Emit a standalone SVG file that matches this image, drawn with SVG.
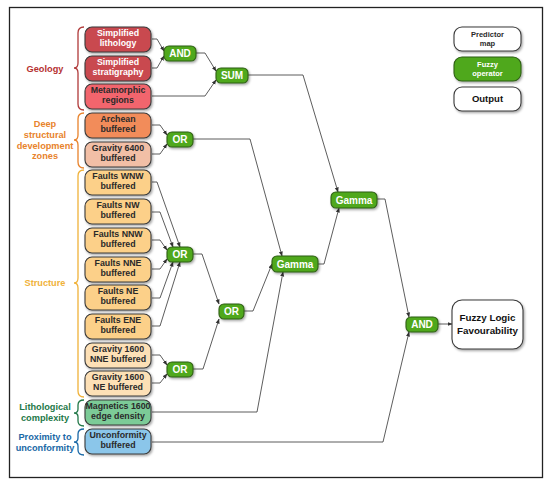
<svg xmlns="http://www.w3.org/2000/svg" width="550" height="486" viewBox="0 0 550 486">
<defs>
<style>
.n rect{stroke:#3a3a3a;stroke-width:1.1;filter:url(#sh)}
.n text{font-family:"Liberation Sans",Arial,sans-serif;font-weight:bold;font-size:8.8px;text-anchor:middle;fill:#2a2a2a}
.n text.w{fill:#ffffff}
.op rect{fill:#4fa81e;stroke:#2f5f14;stroke-width:1.1;filter:url(#sh)}
.op text{font-family:"Liberation Sans",Arial,sans-serif;font-weight:bold;font-size:10px;text-anchor:middle;fill:#ffffff}
.c path{fill:none;stroke:#333;stroke-width:0.8;marker-end:url(#ah)}
.lab{font-family:"Liberation Sans",Arial,sans-serif;font-weight:bold;font-size:9.2px;text-anchor:middle}
.br{fill:none;stroke-width:1.3}
</style>
<filter id="sh" x="-20%" y="-20%" width="150%" height="160%">
<feDropShadow dx="1.2" dy="1.5" stdDeviation="1.2" flood-color="#000" flood-opacity="0.35"/>
</filter>
<marker id="ah" viewBox="0 0 10 10" refX="9" refY="5" markerWidth="5" markerHeight="5" orient="auto" markerUnits="userSpaceOnUse">
<path d="M0,1 L10,5 L0,9 z" fill="#333"/>
</marker>
</defs>
<rect x="0" y="0" width="550" height="486" fill="#ffffff"/>
<rect x="9.5" y="7.5" width="533" height="470" fill="#ffffff" stroke="#222" stroke-width="1.3"/>

<!-- group labels and brackets -->
<g id="grp-geology">
<text class="lab" x="45" y="72" fill="#b5302f">Geology</text>
<path class="br" stroke="#b03a3a" d="M84,27 Q78,27 78,33 L78,63 Q78,68 74,68 Q78,68 78,73 L78,104 Q78,110 84,110"/>
</g>
<g id="grp-deep">
<text class="lab" x="45" y="127" fill="#e8832c">Deep</text>
<text class="lab" x="45" y="138" fill="#e8832c">structural</text>
<text class="lab" x="45" y="148.5" fill="#e8832c">development</text>
<text class="lab" x="45" y="159" fill="#e8832c">zones</text>
<path class="br" stroke="#e8832c" d="M84,113 Q78,113 78,119 L78,135 Q78,140 74,140 Q78,140 78,145 L78,162 Q78,168 84,168"/>
</g>
<g id="grp-structure">
<text class="lab" x="45" y="286" fill="#f0b23a">Structure</text>
<path class="br" stroke="#f0b23a" d="M84,170 Q78,170 78,176 L78,278 Q78,283 74,283 Q78,283 78,288 L78,391 Q78,397 84,397"/>
</g>
<g id="grp-litho">
<text class="lab" x="45" y="410" fill="#237848">Lithological</text>
<text class="lab" x="45" y="421" fill="#237848">complexity</text>
<path class="br" stroke="#237848" d="M84,400 Q78,400 78,405 L78,409 Q78,413 74,413 Q78,413 78,417 L78,421 Q78,426 84,426"/>
</g>
<g id="grp-prox">
<text class="lab" x="45" y="440" fill="#1a68a6">Proximity to</text>
<text class="lab" x="45" y="451" fill="#1a68a6">unconformity</text>
<path class="br" stroke="#1a68a6" d="M84,429 Q78,429 78,434 L78,438 Q78,442 74,442 Q78,442 78,446 L78,450 Q78,455 84,455"/>
</g>

<!-- connectors -->
<g id="connectors" class="c">
<path d="M152,39 L157,39 L164,51"/>
<path d="M152,68 L157,68 L164,56"/>
<path d="M196,53 L205,53 L216,71"/>
<path d="M152,96 L205,96 L216,80"/>
<path d="M248,75 L303,75 L338,192"/>
<path d="M152,125 L160,125 L167,135"/>
<path d="M152,154 L160,154 L167,144"/>
<path d="M193,139 L250,139 L282,256"/>
<path d="M152,182 L157,182 L180,247"/>
<path d="M152,212 L160,212 L173,247"/>
<path d="M152,240 L160,240 L167,250"/>
<path d="M152,269 L160,269 L167,259"/>
<path d="M152,298 L160,298 L173,262"/>
<path d="M152,326 L160,326 L180,262"/>
<path d="M193,254 L202,254 L219,304"/>
<path d="M152,355 L160,355 L167,365"/>
<path d="M152,383 L160,383 L167,374"/>
<path d="M193,369 L203,369 L219,319"/>
<path d="M244,311 L253,311 L272,264"/>
<path d="M152,412 L257,412 L283,272"/>
<path d="M318,264 L324,264 L339,208"/>
<path d="M377,199 L385,199 L409,317"/>
<path d="M152,442 L383,442 L409,332"/>
<path d="M438,324 L452,324"/>
</g>

<!-- predictor nodes -->
<g id="n-lith" class="n"><rect x="85" y="27" width="66" height="25" rx="7" fill="#c9494f"/><text class="w" x="118" y="36">Simplified</text><text class="w" x="118" y="46">lithology</text></g>
<g id="n-strat" class="n"><rect x="85" y="56" width="66" height="25" rx="7" fill="#c9494f"/><text class="w" x="118" y="65">Simplified</text><text class="w" x="118" y="75">stratigraphy</text></g>
<g id="n-meta" class="n"><rect x="85" y="84" width="66" height="25" rx="7" fill="#f2656d"/><text x="118" y="93">Metamorphic</text><text x="118" y="103">regions</text></g>
<g id="n-arch" class="n"><rect x="85" y="113" width="66" height="25" rx="7" fill="#f28c5a"/><text x="118" y="122">Archean</text><text x="118" y="132">buffered</text></g>
<g id="n-grav6400" class="n"><rect x="85" y="142" width="66" height="25" rx="7" fill="#f2bfa6"/><text x="118" y="151">Gravity 6400</text><text x="118" y="161">buffered</text></g>
<g id="n-wnw" class="n"><rect x="85" y="170" width="66" height="25" rx="7" fill="#fcd089"/><text x="118" y="179">Faults WNW</text><text x="118" y="189">buffered</text></g>
<g id="n-nw" class="n"><rect x="85" y="199" width="66" height="25" rx="7" fill="#fcd089"/><text x="118" y="208">Faults NW</text><text x="118" y="218">buffered</text></g>
<g id="n-nnw" class="n"><rect x="85" y="228" width="66" height="25" rx="7" fill="#fcd089"/><text x="118" y="237">Faults NNW</text><text x="118" y="247">buffered</text></g>
<g id="n-nne" class="n"><rect x="85" y="257" width="66" height="25" rx="7" fill="#fcd089"/><text x="118" y="266">Faults NNE</text><text x="118" y="276">buffered</text></g>
<g id="n-ne" class="n"><rect x="85" y="285" width="66" height="25" rx="7" fill="#fcd089"/><text x="118" y="294">Faults NE</text><text x="118" y="304">buffered</text></g>
<g id="n-ene" class="n"><rect x="85" y="314" width="66" height="25" rx="7" fill="#fcd089"/><text x="118" y="323">Faults ENE</text><text x="118" y="333">buffered</text></g>
<g id="n-g1600nne" class="n"><rect x="85" y="343" width="66" height="25" rx="7" fill="#fde0b6"/><text x="118" y="352">Gravity 1600</text><text x="118" y="362">NNE buffered</text></g>
<g id="n-g1600ne" class="n"><rect x="85" y="371" width="66" height="25" rx="7" fill="#fde0b6"/><text x="118" y="380">Gravity 1600</text><text x="118" y="390">NE buffered</text></g>
<g id="n-mag" class="n"><rect x="85" y="400" width="66" height="25" rx="7" fill="#7ccb97"/><text x="118" y="409">Magnetics 1600</text><text x="118" y="419">edge density</text></g>
<g id="n-unc" class="n"><rect x="85" y="429" width="66" height="25" rx="7" fill="#8bc6ea"/><text x="118" y="438">Unconformity</text><text x="118" y="448">buffered</text></g>

<!-- operators -->
<g id="op-and1" class="op"><rect x="164" y="46" width="32" height="15" rx="5"/><text x="180" y="57">AND</text></g>
<g id="op-sum" class="op"><rect x="216" y="68" width="32" height="15" rx="5"/><text x="232" y="79">SUM</text></g>
<g id="op-or-deep" class="op"><rect x="167" y="132" width="26" height="15" rx="5"/><text x="180" y="143">OR</text></g>
<g id="op-or-faults" class="op"><rect x="167" y="247" width="26" height="15" rx="5"/><text x="180" y="258">OR</text></g>
<g id="op-or-grav" class="op"><rect x="167" y="362" width="26" height="15" rx="5"/><text x="180" y="373">OR</text></g>
<g id="op-or-struct" class="op"><rect x="219" y="304" width="25" height="15" rx="5"/><text x="231.5" y="315">OR</text></g>
<g id="op-gamma1" class="op"><rect x="272" y="256" width="46" height="16" rx="5"/><text x="295" y="267.5">Gamma</text></g>
<g id="op-gamma2" class="op"><rect x="331" y="192" width="46" height="16" rx="5"/><text x="354" y="203.5">Gamma</text></g>
<g id="op-and2" class="op"><rect x="406" y="317" width="32" height="15" rx="5"/><text x="422" y="328">AND</text></g>

<!-- output -->
<g id="out" class="n"><rect x="452" y="300" width="71" height="49" rx="10" fill="#ffffff" stroke="#111" stroke-width="1.6"/><text x="487.5" y="321" style="font-size:9.8px;fill:#111">Fuzzy Logic</text><text x="487.5" y="334" style="font-size:9.8px;fill:#111">Favourability</text></g>

<!-- legend -->
<g id="legend-predictor" class="n"><rect x="454" y="27" width="67" height="24" rx="8" fill="#ffffff"/><text x="487.5" y="37" style="font-size:7.5px">Predictor</text><text x="487.5" y="46" style="font-size:7.5px">map</text></g>
<g id="legend-operator" class="op"><rect x="454" y="57" width="67" height="24" rx="8"/><text x="487.5" y="67" style="font-size:7.5px">Fuzzy</text><text x="487.5" y="76" style="font-size:7.5px">operator</text></g>
<g id="legend-output" class="n"><rect x="454" y="87" width="67" height="24" rx="8" fill="#ffffff" stroke="#111" stroke-width="1.6"/><text x="487.5" y="102" style="font-size:9.5px;fill:#111">Output</text></g>
</svg>
